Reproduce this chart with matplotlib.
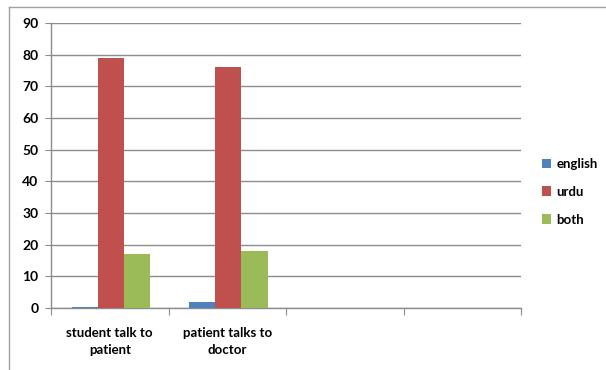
import numpy as np
import matplotlib.pyplot as plt
from matplotlib.lines import Line2D
from matplotlib.patches import Patch

plt.rcParams['font.family'] = ['Lato', 'DejaVu Sans']

categories = ["student talk to\npatient", "patient talks to\ndoctor", "", ""]
series = ["english", "urdu", "both"]
english = [0.4, 1.8, np.nan, np.nan]
urdu = [79, 76, np.nan, np.nan]
both = [17, 18, np.nan, np.nan]
colors = ["#4F81BD", "#C0504D", "#9BBB59"]
yticks = list(range(0, 100, 10))

W, H = 606, 370
fig = plt.figure(figsize=(W / 100, H / 100), dpi=100)
ax = fig.add_axes([51 / W, 1 - 308 / H, (521 - 51) / W, (308 - 23) / H])

x = np.arange(len(categories))
bw = 0.222
for i, (vals, c) in enumerate(zip([english, urdu, both], colors)):
    ax.bar(x + (i - 1) * bw + 0.01, vals, width=bw, color=c, label=series[i], zorder=3)

grey = "#8C8C8C"
ax.set_xlim(-0.5, len(categories) - 0.5)
ax.set_ylim(0, 90)
ax.set_yticks(yticks)
ax.set_yticklabels([str(t) for t in yticks], fontsize=10, fontweight='bold')
ax.yaxis.grid(True, color=grey, linewidth=1.0, zorder=0)
for s in ['top', 'right']:
    ax.spines[s].set_visible(False)
for s in ['left', 'bottom']:
    ax.spines[s].set_color(grey)
    ax.spines[s].set_linewidth(1.0)
ax.tick_params(axis='y', length=4, color=grey, pad=5)

# category boundaries carry the tick marks, labels sit in the middle
ax.set_xticks(np.arange(-0.5, len(categories), 1.0))
ax.set_xticklabels([])
ax.set_xticks(x, minor=True)
ax.set_xticklabels(categories, minor=True, fontsize=9.5, fontweight='bold', linespacing=1.5)
ax.tick_params(axis='x', which='major', length=5, color=grey, direction='out')
ax.tick_params(axis='x', which='minor', length=0, pad=14)

handles = [Patch(facecolor=c, label=s) for s, c in zip(series, colors)]
fig.legend(handles=handles, loc='upper left', bbox_to_anchor=(530 / W, 1 - 146 / H),
           frameon=False, handlelength=0.7, handleheight=0.7,
           handletextpad=0.4, labelspacing=1.2, prop={'weight': 'bold', 'size': 9.5})

# outer chart frame (top and left edges)
fig.add_artist(Line2D([9 / W, 1.0], [1 - 7 / H, 1 - 7 / H], color="#A0A0A0", lw=1.0))
fig.add_artist(Line2D([9 / W, 9 / W], [0.0, 1 - 7 / H], color="#A0A0A0", lw=1.0))

fig.savefig("out.png", dpi=100)
